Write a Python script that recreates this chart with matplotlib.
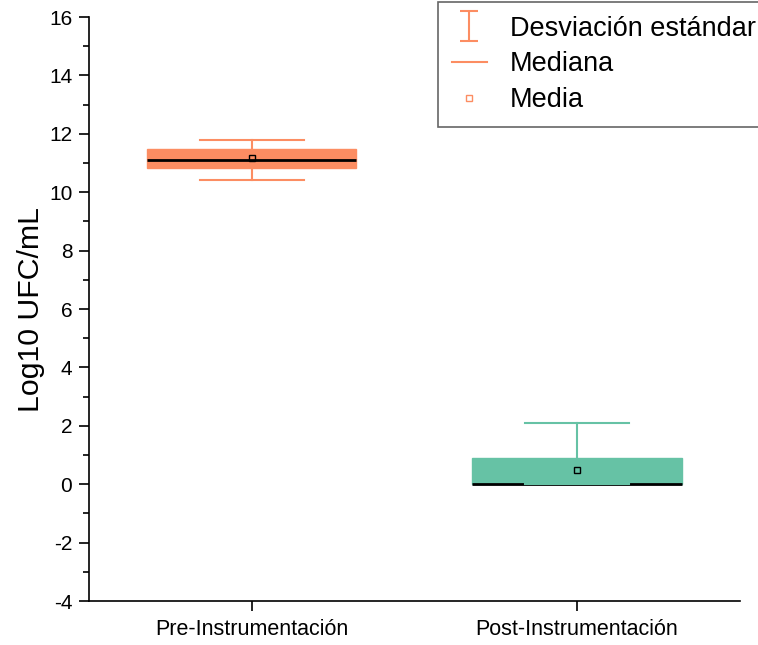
import numpy as np
import matplotlib.pyplot as plt
from matplotlib.lines import Line2D
from matplotlib.legend_handler import HandlerErrorbar

plt.rcParams['font.family'] = ['Liberation Sans', 'DejaVu Sans']
plt.rcParams['axes.unicode_minus'] = False

# data
groups = ['Pre-Instrumentación', 'Post-Instrumentación']
q1 = [10.83, 0.0]
q3 = [11.48, 0.90]
medians = [11.10, 0.0]
means = [11.17, 0.49]
whislo = [10.42, 0.0]
whishi = [11.79, 2.10]
colors = ['#fc8d62', '#66c2a5']

stats = []
for i in range(len(groups)):
    stats.append({'med': medians[i], 'q1': q1[i], 'q3': q3[i],
                  'whislo': whislo[i], 'whishi': whishi[i],
                  'mean': means[i], 'label': groups[i]})

fig = plt.figure(figsize=(7.58, 6.45), dpi=100)
ax = fig.add_axes([0.1174, 0.0682, 0.976 - 0.1174, 0.9736 - 0.0682])

bp = ax.bxp(stats, positions=[1, 2], widths=0.643, capwidths=0.32,
            patch_artist=True, showmeans=True, showfliers=False,
            medianprops=dict(color='black', lw=2),
            meanprops=dict(marker='s', markerfacecolor='none',
                           markeredgecolor='black', markersize=5,
                           markeredgewidth=1))
for i, c in enumerate(colors):
    bp['boxes'][i].set_facecolor(c)
    bp['boxes'][i].set_edgecolor(c)
    bp['boxes'][i].set_linewidth(1)
    for w in bp['whiskers'][2 * i:2 * i + 2]:
        w.set_color(c)
        w.set_linewidth(1.5)
    for cp in bp['caps'][2 * i:2 * i + 2]:
        cp.set_color(c)
        cp.set_linewidth(1.5)
        cp.set_zorder(3)

ax.set_xlim(0.5, 2.5)
ax.set_ylim(-4, 16)
ax.set_yticks(np.arange(-4, 17, 2))
ax.set_yticks(np.arange(-4, 17, 1), minor=True)
ax.set_xticks([1, 2])
ax.set_xticklabels(groups, fontsize=15.5)
ax.tick_params(axis='y', labelsize=15, direction='out', length=7, width=1.2,
               pad=5)
ax.tick_params(axis='y', which='minor', length=4, width=1.2)
ax.tick_params(axis='x', direction='out', length=7, width=1.2, pad=6)
ax.spines['top'].set_visible(False)
ax.spines['right'].set_visible(False)
ax.spines['left'].set_linewidth(1.2)
ax.spines['bottom'].set_linewidth(1.2)
ax.set_ylabel('Log10 UFC/mL', fontsize=21.8, labelpad=3)

# legend handles (drawn with nan data so nothing shows in the axes)
err_handle = ax.errorbar([np.nan], [np.nan], yerr=[1], color=colors[0],
                         fmt='none', capsize=6.5, elinewidth=1.5,
                         capthick=1.5)
med_handle = Line2D([], [], color=colors[0], lw=1.5)
mean_handle = Line2D([], [], color=colors[0], lw=0, marker='s',
                     markerfacecolor='none', markersize=5)
leg = fig.legend([err_handle, med_handle, mean_handle],
                 ['Desviación estándar', 'Mediana', 'Media'],
                 loc='upper left', bbox_to_anchor=(438 / 758, 1 - 2 / 645),
                 fontsize=19.5, frameon=True, fancybox=False,
                 borderpad=0.5, labelspacing=0.36, handlelength=1.3,
                 handletextpad=0.85, borderaxespad=0,
                 handler_map={type(err_handle): HandlerErrorbar(yerr_size=0.55)})
leg.get_frame().set_edgecolor('#404040')
leg.get_frame().set_linewidth(1.2)

fig.savefig('out.png', dpi=100)
